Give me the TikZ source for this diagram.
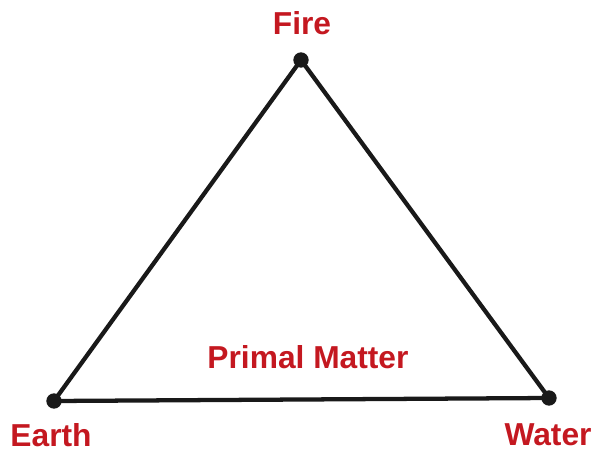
\documentclass[tikz,border=0pt]{standalone}
\usepackage{fontspec}
\setmainfont{Liberation Sans}
\usepackage{xcolor}
\usetikzlibrary{positioning}
\definecolor{elemred}{RGB}{196,24,32}

\begin{document}
\begin{tikzpicture}[
  x=0.75pt, y=-0.75pt,
  lbl/.style={font=\fontsize{23.8}{26}\selectfont\bfseries, text=elemred, anchor=base, inner sep=0pt},
  v/.style={circle, fill=black!90, inner sep=0pt, minimum size=11.5pt},
  edge/.style={line width=3.2pt, draw=black!90}
]
\useasboundingbox (0,0) rectangle (592,449);
\node[v] (fire)  at (301,60)  {};
\node[v] (earth) at (54,401)  {};
\node[v] (water) at (549,398) {};
\draw[edge] (fire.center) -- (water.center) -- (earth.center) -- cycle;
\node[lbl] (firelbl)   at (302,35)  {Fire};
\node[lbl] (earthlbl)  at (51,446)  {Earth};
\node[lbl] (waterlbl)  at (548,445) {Water};
\node[lbl] (primal)    at (308,368) {Primal Matter};
\end{tikzpicture}
\end{document}
